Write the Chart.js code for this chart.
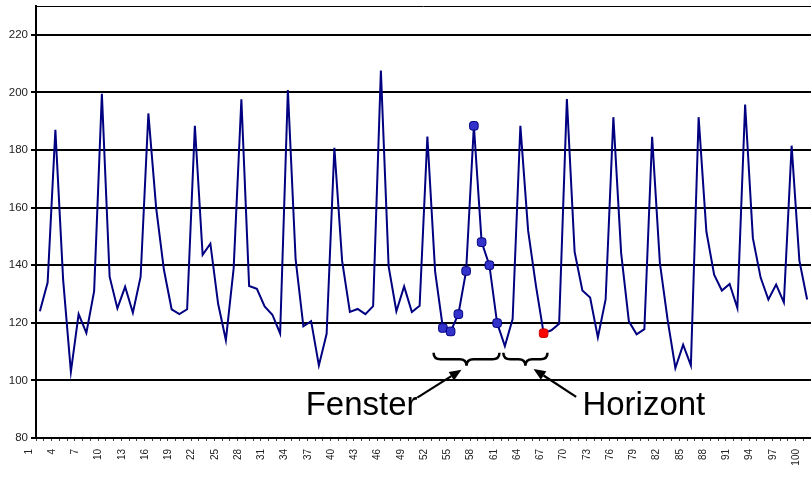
<!DOCTYPE html>
<html>
<head>
<meta charset="utf-8">
<script src="https://cdn.jsdelivr.net/npm/chart.js@4.4.1/dist/chart.umd.min.js"></script>
<style>
html, body { margin: 0; padding: 0; background: #fff; }
#wrap { width: 811px; height: 479px; position: relative; }
</style>
</head>
<body>
<div id="wrap"><canvas id="chart"></canvas></div>
<script>
const categories = [
    '1', '2', '3', '4', '5', '6', '7', '8', '9', '10', '11', '12', '13', '14', '15', '16', '17', '18', '19', '20',
    '21', '22', '23', '24', '25', '26', '27', '28', '29', '30', '31', '32', '33', '34', '35', '36', '37', '38', '39', '40',
    '41', '42', '43', '44', '45', '46', '47', '48', '49', '50', '51', '52', '53', '54', '55', '56', '57', '58', '59', '60',
    '61', '62', '63', '64', '65', '66', '67', '68', '69', '70', '71', '72', '73', '74', '75', '76', '77', '78', '79', '80',
    '81', '82', '83', '84', '85', '86', '87', '88', '89', '90', '91', '92', '93', '94', '95', '96', '97', '98', '99', '100'
];

const values = [
    124, 134, 187, 135, 103, 123, 116.5, 131, 199.5, 136,
    125, 132.5, 123.5, 136, 192.7, 160, 138.5, 124.7, 123, 124.7,
    188.4, 143.6, 147.5, 126.6, 114, 138.8, 197.6, 132.8, 131.8, 125.7,
    122.8, 116.3, 200.8, 142, 118.8, 120.6, 105.2, 116.2, 180.8, 141.5,
    123.8, 124.8, 123, 125.8, 207.6, 139.6, 124, 132.6, 123.7, 125.9,
    184.7, 137.8, 118.2, 117, 123, 138, 188.4, 148, 140, 119.9,
    111.9, 121.3, 188.4, 152, 133, 116.4, 117.4, 119.7, 197.7, 144.6,
    131.2, 128.8, 114.9, 128.1, 191.4, 144.3, 120.5, 116, 117.8, 184.6,
    140.8, 121, 104.3, 112.4, 105.2, 191.4, 151.7, 136.7, 131.2, 133.5,
    125.1, 195.8, 149.4, 135.7, 128.1, 133.3, 127.1, 181.5, 141.6, 128.1
];

// x labels shown (every third category)
const xTickLabels = ['1', '4', '7', '10', '13', '16', '19', '22', '25', '28', '31', '34', '37', '40', '43', '46', '49',
    '52', '55', '58', '61', '64', '67', '70', '73', '76', '79', '82', '85', '88', '91', '94', '97', '100'];
const yTicks = [80, 100, 120, 140, 160, 180, 200, 220];

const fensterPoints = ['53', '54', '55', '56', '57', '58', '59', '60'];
const horizontPoint = '66';

// annotations, anchored in data space (x = 0-based category index, y = value)
const braces = [
    { from: 50.8, to: 59.3, top: 109.6, bottom: 105.1 },
    { from: 59.8, to: 65.5, top: 109.6, bottom: 105.1 }
];
const arrows = [
    { x0: 48.7, y0: 94.0, x1: 54.4, y1: 103.7 },
    { x0: 69.2, y0: 94.3, x1: 63.7, y1: 104.0 }
];
const notes = [
    { text: 'Fenster', x: 34.3, y: 88.1 },
    { text: 'Horizont', x: 70.0, y: 88.1 }
];

const FONT = '"Liberation Sans", Arial, sans-serif';
Chart.defaults.font.family = FONT;

const isFenster = (i) => fensterPoints.includes(categories[i]);
const isHorizont = (i) => categories[i] === horizontPoint;

const drawBrace = (ctx, x1, x2, yTop, yBot) => {
    const yMid = (yTop + yBot) / 2;
    const xm = (x1 + x2) / 2;
    const r = Math.min(7, (x2 - x1) / 4);
    ctx.beginPath();
    ctx.moveTo(x1, yTop);
    ctx.quadraticCurveTo(x1, yMid, x1 + r, yMid);
    ctx.lineTo(xm - r, yMid);
    ctx.quadraticCurveTo(xm, yMid, xm, yBot);
    ctx.quadraticCurveTo(xm, yMid, xm + r, yMid);
    ctx.lineTo(x2 - r, yMid);
    ctx.quadraticCurveTo(x2, yMid, x2, yTop);
    ctx.stroke();
};

const drawArrow = (ctx, x0, y0, x1, y1) => {
    const a = Math.atan2(y1 - y0, x1 - x0);
    const len = 12, half = 5;
    const bx = x1 - len * Math.cos(a), by = y1 - len * Math.sin(a);
    ctx.beginPath();
    ctx.moveTo(x0, y0);
    ctx.lineTo(bx, by);
    ctx.stroke();
    ctx.beginPath();
    ctx.moveTo(x1, y1);
    ctx.lineTo(bx + half * Math.sin(a), by - half * Math.cos(a));
    ctx.lineTo(bx - half * Math.sin(a), by + half * Math.cos(a));
    ctx.closePath();
    ctx.fill();
};

const notesPlugin = {
    id: 'notes',
    afterDatasetsDraw(chart) {
        const { ctx, chartArea, scales: { x, y } } = chart;
        ctx.save();
        // top border of the plot area
        ctx.strokeStyle = '#000';
        ctx.lineWidth = 1;
        ctx.beginPath();
        ctx.moveTo(chartArea.left, chartArea.top + 0.5);
        ctx.lineTo(chartArea.right, chartArea.top + 0.5);
        ctx.stroke();

        ctx.lineWidth = 2.5;
        ctx.fillStyle = '#000';
        braces.forEach(b => drawBrace(ctx, x.getPixelForValue(b.from), x.getPixelForValue(b.to),
            y.getPixelForValue(b.top), y.getPixelForValue(b.bottom)));
        ctx.lineWidth = 2.2;
        arrows.forEach(a => drawArrow(ctx, x.getPixelForValue(a.x0), y.getPixelForValue(a.y0),
            x.getPixelForValue(a.x1), y.getPixelForValue(a.y1)));

        ctx.font = '33px ' + FONT;
        ctx.textAlign = 'left';
        ctx.textBaseline = 'alphabetic';
        notes.forEach(n => ctx.fillText(n.text, x.getPixelForValue(n.x), y.getPixelForValue(n.y)));
        ctx.restore();
    }
};

const ctx = document.getElementById('chart').getContext('2d');

new Chart(ctx, {
    type: 'line',
    data: {
        labels: categories,
        datasets: [
            {
                label: 'Reihe',
                data: values,
                borderColor: '#000080',
                borderWidth: 2,
                tension: 0,
                pointStyle: 'rectRounded',
                pointRadius: (c) => (isFenster(c.dataIndex) || isHorizont(c.dataIndex)) ? 5 : 0,
                pointBackgroundColor: (c) => isHorizont(c.dataIndex) ? '#ff0000' : '#3333cc',
                pointBorderColor: (c) => isHorizont(c.dataIndex) ? '#cc0000' : '#000080',
                pointBorderWidth: 1,
                pointHoverRadius: 0
            }
        ]
    },
    options: {
        responsive: true,
        maintainAspectRatio: false,
        animation: false,
        layout: { padding: { top: 6, left: 0, right: 0, bottom: 0 } },
        plugins: {
            legend: { display: false },
            tooltip: { enabled: false }
        },
        scales: {
            x: {
                offset: true,
                grid: {
                    offset: true,
                    drawOnChartArea: false,
                    drawTicks: true,
                    tickLength: 3,
                    color: '#444',
                    lineWidth: 1
                },
                border: { display: true, color: '#000', width: 2 },
                ticks: {
                    autoSkip: false,
                    maxRotation: 90,
                    minRotation: 90,
                    labelOffset: -11,
                    padding: 8,
                    color: '#222',
                    font: { size: 10 },
                    callback: function (value) {
                        const lab = this.getLabelForValue(value);
                        return xTickLabels.includes(lab) ? lab : '';
                    }
                },
                afterFit: (s) => { s.height = 41; s.paddingLeft = 0; s.paddingRight = 0; }
            },
            y: {
                min: 80,
                max: 230,
                afterBuildTicks: (s) => { s.ticks = yTicks.map(v => ({ value: v })); },
                grid: {
                    color: '#000',
                    lineWidth: 2,
                    tickLength: 5
                },
                border: { display: true, color: '#000', width: 2 },
                ticks: {
                    padding: 3,
                    color: '#222',
                    font: { size: 11.5 }
                },
                afterFit: (s) => { s.width = 36; s.paddingTop = 0; s.paddingBottom = 0; }
            }
        }
    },
    plugins: [notesPlugin]
});
</script>
</body>
</html>
